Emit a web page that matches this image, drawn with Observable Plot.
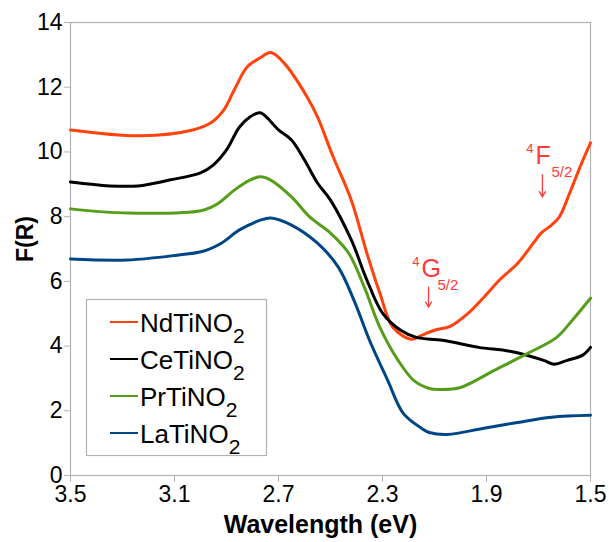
<!DOCTYPE html>
<html>
<head>
<meta charset="utf-8">
<script src="https://cdn.jsdelivr.net/npm/d3@7"></script>
<script src="https://cdn.jsdelivr.net/npm/@observablehq/plot@0.6"></script>
<style>
  html, body { margin: 0; padding: 0; background: #fff; }
  #chart { position: relative; width: 609px; height: 542px; overflow: hidden; }
</style>
</head>
<body>
<div id="chart"></div>
<script>
// ---- Data (energy in eV, F(R)) ----
const seriesNames = ["NdTiNO", "CeTiNO", "PrTiNO", "LaTiNO"];
const seriesSub = "2";
const seriesColors = ["#ff420e", "#000000", "#579d1c", "#004586"];

const ndX = [3.5, 3.23, 3.03, 2.96, 2.91, 2.87, 2.82, 2.77, 2.73, 2.68, 2.59, 2.55, 2.49, 2.42, 2.36, 2.31, 2.26, 2.19, 2.15, 2.10, 2.04, 1.97, 1.91, 1.85, 1.78, 1.72, 1.69, 1.65, 1.62, 1.58, 1.54, 1.50];
const ndY = [10.68, 10.50, 10.68, 10.90, 11.30, 11.92, 12.63, 12.91, 13.07, 12.76, 11.70, 11.08, 9.85, 8.51, 6.87, 5.63, 4.58, 4.21, 4.33, 4.49, 4.61, 5.02, 5.51, 6.04, 6.56, 7.18, 7.49, 7.74, 7.99, 8.73, 9.54, 10.28];

const ceX = [3.5, 3.35, 3.24, 3.12, 3.0, 2.95, 2.90, 2.85, 2.81, 2.77, 2.70, 2.65, 2.60, 2.55, 2.50, 2.42, 2.36, 2.30, 2.23, 2.17, 2.07, 1.93, 1.81, 1.68, 1.64, 1.59, 1.53, 1.50];
const ceY = [9.07, 8.95, 8.95, 9.13, 9.35, 9.60, 10.06, 10.77, 11.08, 11.21, 10.68, 10.37, 9.75, 9.04, 8.51, 7.28, 6.04, 5.02, 4.49, 4.27, 4.18, 3.96, 3.84, 3.56, 3.44, 3.56, 3.72, 3.96];

const prX = [3.5, 3.28, 2.99, 2.93, 2.87, 2.81, 2.77, 2.73, 2.65, 2.58, 2.50, 2.43, 2.37, 2.31, 2.24, 2.18, 2.12, 2.08, 2.0, 1.87, 1.74, 1.63, 1.57, 1.50];
const prY = [8.24, 8.11, 8.20, 8.42, 8.82, 9.13, 9.23, 9.13, 8.61, 7.99, 7.49, 6.87, 5.82, 4.58, 3.56, 2.94, 2.69, 2.66, 2.72, 3.25, 3.78, 4.27, 4.80, 5.48];

const laX = [3.5, 3.28, 3.09, 2.99, 2.92, 2.85, 2.77, 2.73, 2.65, 2.55, 2.47, 2.41, 2.35, 2.28, 2.22, 2.15, 2.12, 2.05, 1.91, 1.78, 1.65, 1.50];
const laY = [6.69, 6.66, 6.81, 6.93, 7.18, 7.59, 7.89, 7.96, 7.74, 7.18, 6.44, 5.42, 4.18, 2.94, 1.92, 1.46, 1.33, 1.27, 1.46, 1.64, 1.80, 1.86];

const xTicks = [3.5, 3.1, 2.7, 2.3, 1.9, 1.5];
const yTicks = [0, 2, 4, 6, 8, 10, 12, 14];

// Annotations: level labels with arrows (data coordinates)
const annLevel = ["G", "F"];
const annSup = ["4", "4"];
const annSub = ["5/2", "5/2"];
const annX = [2.123, 1.685];
const annTextY = [6.38, 9.88];
const annArrowY1 = [5.82, 9.29];
const annArrowY2 = [5.20, 8.61];

// ---- Build tables ----
const xsAll = [ndX, ceX, prX, laX];
const ysAll = [ndY, ceY, prY, laY];
const lineData = seriesNames.map((n, i) => xsAll[i].map((x, j) => ({series: n, x, y: ysAll[i][j]})));
const ann = annLevel.map((t, i) => ({level: t, sup: annSup[i], sub: annSub[i], x: annX[i], ty: annTextY[i], y1: annArrowY1[i], y2: annArrowY2[i]}));

const annColor = "#ff3a3a";
const gray = "#b3b3b3";
const font = "'Liberation Sans', Arial, Helvetica, sans-serif";

const plot = Plot.plot({
  width: 609,
  height: 542,
  marginLeft: 70,
  marginRight: 19,
  marginTop: 22,
  marginBottom: 67,
  style: {fontFamily: font, fontSize: "23px", background: "white", color: "black", overflow: "visible"},
  x: {domain: [3.5, 1.5]},
  y: {domain: [0, 14]},
  marks: [
    Plot.frame({stroke: gray, strokeWidth: 1.2}),
    Plot.axisY({ticks: yTicks, tickSize: 6, tickPadding: 2, stroke: gray, label: null, fontSize: 23}),
    Plot.axisX({ticks: xTicks, tickSize: 7, tickPadding: 3, stroke: gray, label: null, fontSize: 23, tickFormat: d => d.toFixed(1)}),
    ...lineData.map((d, i) => Plot.line(d, {x: "x", y: "y", stroke: seriesColors[i], strokeWidth: 3, curve: "catmull-rom"})),
    Plot.arrow(ann, {x1: "x", x2: "x", y1: "y1", y2: "y2", stroke: annColor, strokeWidth: 1.3, headLength: 7}),
    Plot.text(ann, {x: "x", y: "ty", text: "level", fill: annColor, fontSize: 25, textAnchor: "start", dx: -7}),
    Plot.text(ann, {x: "x", y: "ty", text: "sup", fill: annColor, fontSize: 13, textAnchor: "end", dx: -9, dy: -7}),
    Plot.text(ann, {x: "x", y: "ty", text: "sub", fill: annColor, fontSize: 15, textAnchor: "start", dx: 9, dy: 16}),
    Plot.text(["F(R)"], {frameAnchor: "left", dx: -45, dy: 13, rotate: -90, fontWeight: "bold", fontSize: 23, text: d => d}),
    Plot.text(["Wavelength (eV)"], {frameAnchor: "bottom", dy: 57, dx: -10, fontWeight: "bold", fontSize: 25, text: d => d})
  ]
});

document.getElementById("chart").appendChild(plot);

// ---- Legend inside the plot area ----
const svg = d3.select(plot);
const lg = svg.append("g").attr("font-family", font).attr("text-anchor", "start");
lg.append("rect")
  .attr("x", 86.5).attr("y", 299.5).attr("width", 180).attr("height", 156)
  .attr("fill", "white").attr("stroke", gray).attr("stroke-width", 1.2);
seriesNames.forEach((n, i) => {
  const cy = 322 + i * 37;
  lg.append("line").attr("x1", 110).attr("x2", 138).attr("y1", cy).attr("y2", cy)
    .attr("stroke", seriesColors[i]).attr("stroke-width", 2);
  const t = lg.append("text").attr("x", 140).attr("y", cy + 10).attr("font-size", 26)
    .attr("fill", "black").attr("text-anchor", "start");
  t.append("tspan").text(n);
  t.append("tspan").attr("dy", 11).attr("font-size", 21).text(seriesSub);
});
</script>
</body>
</html>
